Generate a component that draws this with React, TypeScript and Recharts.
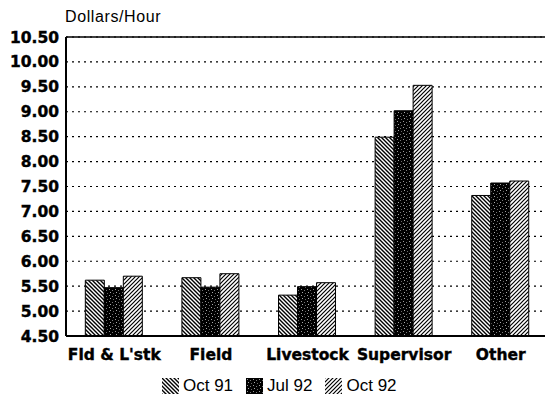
import React from "react";
import { BarChart, Bar, XAxis, YAxis, CartesianGrid, ReferenceLine } from "recharts";

const categories = ["Fld & L'stk", "Field", "Livestock", "Supervisor", "Other"];
const oct91 = [5.62, 5.67, 5.32, 8.49, 7.32];
const jul92 = [5.47, 5.48, 5.49, 9.02, 7.57];
const oct92 = [5.7, 5.75, 5.57, 9.53, 7.61];
const seriesNames = ["Oct 91", "Jul 92", "Oct 92"];
const yTicks = [4.5, 5, 5.5, 6, 6.5, 7, 7.5, 8, 8.5, 9, 9.5, 10, 10.5];
const yTitle = "Dollars/Hour";

const seriesKeys = ["oct91", "jul92", "oct92"];
const patternIds = ["patA", "patB", "patC"];

const data = categories.map((c, i) => ({
  name: c,
  oct91: oct91[i],
  jul92: jul92[i],
  oct92: oct92[i],
}));

const boldFont = "'DejaVu Sans', sans-serif";

const YTick = (props: any) => {
  const { x, y, payload } = props;
  return (
    <text x={x + 1} y={y} dy={5.5} textAnchor="end" fontFamily={boldFont} fontWeight="bold" fontSize={15.5} fill="#000" stroke="#000" strokeWidth={0.4}>
      {Number(payload.value).toFixed(2)}
    </text>
  );
};

const XTick = (props: any) => {
  const { x, y, payload } = props;
  return (
    <text x={x} y={y} dy={16} textAnchor="middle" fontFamily={boldFont} fontWeight="bold" fontSize={15.5} fill="#000" stroke="#000" strokeWidth={0.4}>
      {payload.value}
    </text>
  );
};

const Defs = () => (
  <svg width={0} height={0} style={{ position: "absolute" }}>
    <defs>
      <pattern id="patA" patternUnits="userSpaceOnUse" width={4} height={4}>
        <rect width={4} height={4} fill="#fff" />
        <path d="M-1,-1 L5,5 M-1,3 L1,5 M3,-1 L5,1" stroke="#000" strokeWidth={1.4} />
      </pattern>
      <pattern id="patB" patternUnits="userSpaceOnUse" width={6} height={6}>
        <rect width={6} height={6} fill="#000" />
        <rect x={1} y={1} width={1} height={1} fill="#999" />
        <rect x={4} y={2} width={1} height={1} fill="#777" />
        <rect x={2} y={4} width={1} height={1} fill="#aaa" />
        <rect x={5} y={5} width={1} height={1} fill="#666" />
      </pattern>
      <pattern id="patC" patternUnits="userSpaceOnUse" width={4} height={4}>
        <rect width={4} height={4} fill="#fff" />
        <path d="M-1,5 L5,-1 M-1,1 L1,-1 M3,5 L5,3" stroke="#000" strokeWidth={1.2} />
      </pattern>
    </defs>
  </svg>
);

export default function App() {
  return (
    <div style={{ position: "absolute", left: 0, top: 0, width: 545, height: 411, overflow: "hidden", background: "#fff" }}>
      <Defs />
      <div
        style={{
          position: "absolute",
          left: 65,
          top: 8,
          fontFamily: "'Liberation Sans', Arial, sans-serif",
          fontSize: 16,
          letterSpacing: 0.6,
          lineHeight: "18px",
          color: "#000",
        }}
      >
        {yTitle}
      </div>
      <BarChart
        width={550}
        height={411}
        data={data}
        margin={{ top: 37, right: 1, left: 0, bottom: 45 }}
        barCategoryGap="20%"
        barGap={0}
      >
        <CartesianGrid vertical={false} stroke="#000" strokeDasharray="2 4" strokeWidth={1.2} />
        <XAxis
          dataKey="name"
          height={30}
          tickLine={false}
          axisLine={{ stroke: "#000", strokeWidth: 2 }}
          tick={<XTick />}
          interval={0}
        />
        <YAxis
          width={66}
          domain={[4.5, 10.5]}
          ticks={yTicks}
          interval={0}
          tickLine={false}
          axisLine={{ stroke: "#000", strokeWidth: 2 }}
          tick={<YTick />}
        />
        <ReferenceLine y={10.5} stroke="#000" strokeWidth={1.5} />
        {seriesKeys.map((k, i) => (
          <Bar
            key={k}
            dataKey={k}
            name={seriesNames[i]}
            fill={`url(#${patternIds[i]})`}
            stroke="#000"
            strokeWidth={1}
            isAnimationActive={false}
          />
        ))}
      </BarChart>
      <div
        style={{
          position: "absolute",
          left: 162,
          top: 377,
          display: "flex",
          alignItems: "center",
          fontFamily: "'Liberation Sans', Arial, sans-serif",
          fontSize: 17,
          lineHeight: "18px",
          color: "#000",
        }}
      >
        {seriesNames.map((n, i) => (
          <div key={n} style={{ display: "flex", alignItems: "center", marginRight: 13 }}>
            <svg width={17} height={16} style={{ marginRight: 4 }}>
              <rect x={0} y={0} width={17} height={16} fill={`url(#${patternIds[i]})`} />
            </svg>
            <span>{n}</span>
          </div>
        ))}
      </div>
    </div>
  );
}
